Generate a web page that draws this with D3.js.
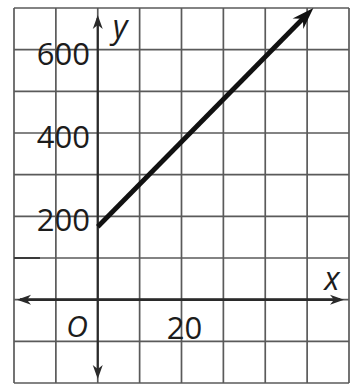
<!DOCTYPE html>
<html>
<head>
<meta charset="utf-8">
<script src="https://cdn.jsdelivr.net/npm/d3@7"></script>
<style>
  body { margin: 0; background: #fff; }
  svg { display: block; }
  text { font-family: "Open Sans", "Liberation Sans", sans-serif; fill: #1c1c1c; }
</style>
</head>
<body>
<svg id="chart" width="357" height="385"></svg>
<script>
// grid values (one cell = 10 on x, 100 on y)
const xGrid = [-20, -10, 0, 10, 20, 30, 40, 50, 60];
const yGrid = [-200, -100, 0, 100, 200, 300, 400, 500, 600, 700];
const yLabels = [200, 400, 600];
const xLabels = [20];

// the graphed line y = 10x + 175, start and arrow end
const lineX = [0, 51.5];
const lineY = [175, 700];

const svg = d3.select('#chart');

const x = d3.scaleLinear().domain([-20, 60]).range([14, 349]);
const y = d3.scaleLinear().domain([-200, 700]).range([383, 8]);

// grid lines
svg.append('g')
  .selectAll('line')
  .data(xGrid)
  .enter()
  .append('line')
  .attr('x1', d => x(d)).attr('x2', d => x(d))
  .attr('y1', y(700)).attr('y2', y(-200))
  .attr('stroke', '#5a5a5a')
  .attr('stroke-width', 1.7);

svg.append('g')
  .selectAll('line')
  .data(yGrid)
  .enter()
  .append('line')
  .attr('x1', x(-20)).attr('x2', x(60))
  .attr('y1', d => y(d)).attr('y2', d => y(d))
  .attr('stroke', '#5a5a5a')
  .attr('stroke-width', 1.7);

// darker stroke on the 100 line at the far left
svg.append('line')
  .attr('x1', x(-20)).attr('x2', x(-13.8))
  .attr('y1', y(100)).attr('y2', y(100))
  .attr('stroke', '#3a3a3a')
  .attr('stroke-width', 2);

// arrowhead polygon, tip at (tx,ty) pointing along angle a
function arrowHead(tx, ty, a, len, half, notch) {
  const c = Math.cos(a), s = Math.sin(a);
  const bx = tx - c * len, by = ty - s * len;
  const nx = tx - c * notch, ny = ty - s * notch;
  return 'M' + tx + ',' + ty +
    'L' + (bx - s * half) + ',' + (by + c * half) +
    'L' + nx + ',' + ny +
    'L' + (bx + s * half) + ',' + (by - c * half) + 'Z';
}

const axisColor = '#2a2a2a';

// x axis
svg.append('line')
  .attr('x1', 20).attr('x2', 340)
  .attr('y1', y(0)).attr('y2', y(0))
  .attr('stroke', axisColor).attr('stroke-width', 2.6);
svg.append('path').attr('d', arrowHead(17, y(0), Math.PI, 14, 5, 10)).attr('fill', axisColor);
svg.append('path').attr('d', arrowHead(344, y(0), 0, 14, 5, 10)).attr('fill', axisColor);

// y axis
svg.append('line')
  .attr('x1', x(0)).attr('x2', x(0))
  .attr('y1', 18).attr('y2', 375)
  .attr('stroke', axisColor).attr('stroke-width', 2.2);
svg.append('path').attr('d', arrowHead(x(0), 15, -Math.PI / 2, 14, 5, 10)).attr('fill', axisColor);
svg.append('path').attr('d', arrowHead(x(0), 379, Math.PI / 2, 14, 5, 10)).attr('fill', axisColor);

// graphed line with arrow
const x0 = x(lineX[0]), y0 = y(lineY[0]), x1 = x(lineX[1]), y1 = y(lineY[1]);
const ang = Math.atan2(y1 - y0, x1 - x0);
svg.append('line')
  .attr('x1', x0).attr('y1', y0)
  .attr('x2', x1 - Math.cos(ang) * 12).attr('y2', y1 - Math.sin(ang) * 12)
  .attr('stroke', '#111').attr('stroke-width', 4.8);
svg.append('path').attr('d', arrowHead(x1, y1, ang, 22, 7.5, 15)).attr('fill', '#111');

// tick labels
svg.append('g')
  .selectAll('text')
  .data(yLabels)
  .enter()
  .append('text')
  .attr('x', 90)
  .attr('y', d => y(d) + 15)
  .attr('text-anchor', 'end')
  .attr('font-size', 31)
  .text(d => d);

svg.append('g')
  .selectAll('text')
  .data(xLabels)
  .enter()
  .append('text')
  .attr('x', d => x(d) + 3)
  .attr('y', y(0) + 39)
  .attr('text-anchor', 'middle')
  .attr('font-size', 31)
  .text(d => d);

// origin and axis names
svg.append('text')
  .attr('x', 77).attr('y', y(0) + 37)
  .attr('text-anchor', 'middle')
  .attr('font-size', 30)
  .attr('font-style', 'italic')
  .text('O');

svg.append('text')
  .attr('x', 120).attr('y', 38)
  .attr('text-anchor', 'middle')
  .attr('font-size', 32)
  .attr('font-style', 'italic')
  .text('y');

svg.append('text')
  .attr('x', 332).attr('y', 290)
  .attr('text-anchor', 'middle')
  .attr('font-size', 32)
  .attr('font-style', 'italic')
  .text('x');
</script>
</body>
</html>
